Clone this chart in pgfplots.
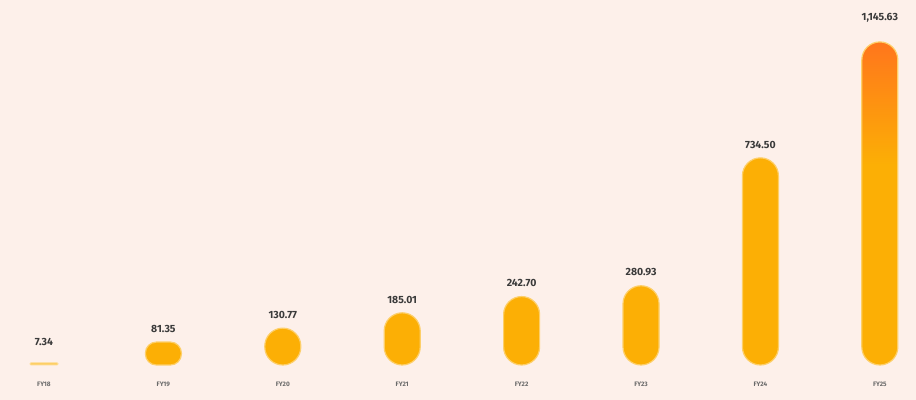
\documentclass[border=0pt]{standalone}
\usepackage{pgfplots}
\pgfplotsset{compat=1.18}
\usepackage{pgfplotstable}
\usepackage{fontspec}
\setmainfont{Fira Sans}
\usetikzlibrary{backgrounds}
\definecolor{bgpeach}{HTML}{FDF0EA}
\definecolor{amber}{HTML}{FCAF05}
\definecolor{deeporange}{HTML}{FF761C}
\definecolor{labelgray}{HTML}{3A3A3A}
\definecolor{tickgray}{HTML}{6A6A6A}
\pgfdeclareverticalshading{pillshade}{100bp}{color(0bp)=(amber); color(25bp)=(amber); color(56bp)=(amber); color(75bp)=(deeporange); color(100bp)=(deeporange)}

\pgfplotstableread{
x  y        label
0  7.34     7.34
}\barA
\pgfplotstableread{
x  y        label
1  81.35    81.35
}\barB
\pgfplotstableread{
x  y        label
2  130.77   130.77
3  185.01   185.01
4  242.70   242.70
5  280.93   280.93
6  734.50   734.50
}\mainbars
\pgfplotstableread{
x  y        label
7  1145.63  1,145.63
}\lastbar

\begin{document}
\begin{tikzpicture}
\begin{axis}[
    x=119.4bp, y=0.282bp,
    xmin=-0.3685, xmax=7.303,
    ymin=-124.1, ymax=1294.3,
    axis line style={draw=none},
    tick style={draw=none},
    ytick=\empty,
    xtick={0,...,7},
    xticklabels={FY18,FY19,FY20,FY21,FY22,FY23,FY24,FY25},
    xticklabel style={anchor=center, yshift=20bp, font=\fontsize{6.5}{7}\selectfont\bfseries, text=tickgray},
    ybar, bar width=36bp,
    nodes near coords,
    point meta=explicit symbolic,
    every node near coord/.append style={anchor=south, inner sep=0pt, yshift=9bp,
        font=\fontsize{10.5}{12}\selectfont\bfseries, text=labelgray},
    clip=false,
]
\coordinate (bl) at (rel axis cs:0,0);
\coordinate (tr) at (rel axis cs:1,1);
\addplot[bar shift=0pt, fill=amber!70!white, draw=amber!45!white, line width=1bp, rounded corners=1bp, bar width=28bp,
    every node near coord/.append style={yshift=8bp}]
    table[x=x, y=y, meta=label] {\barA};
\addplot[bar shift=0pt, fill=amber, draw=amber!60!white, line width=1.2bp, rounded corners=11bp, bar width=36bp]
    table[x=x, y=y, meta=label] {\barB};
\addplot[bar shift=0pt, fill=amber, draw=amber!60!white, line width=1.2bp, rounded corners=18bp]
    table[x=x, y=y, meta=label] {\mainbars};
\addplot[bar shift=0pt, shading=pillshade, draw=amber!60!white, line width=1.2bp, rounded corners=18bp,
    every node near coord/.append style={yshift=10bp}]
    table[x=x, y=y, meta=label] {\lastbar};
\end{axis}
\begin{scope}[on background layer]
\fill[bgpeach] (bl) rectangle (tr);
\end{scope}
\pgfresetboundingbox
\path[use as bounding box] (bl) rectangle (tr);
\end{tikzpicture}
\end{document}
